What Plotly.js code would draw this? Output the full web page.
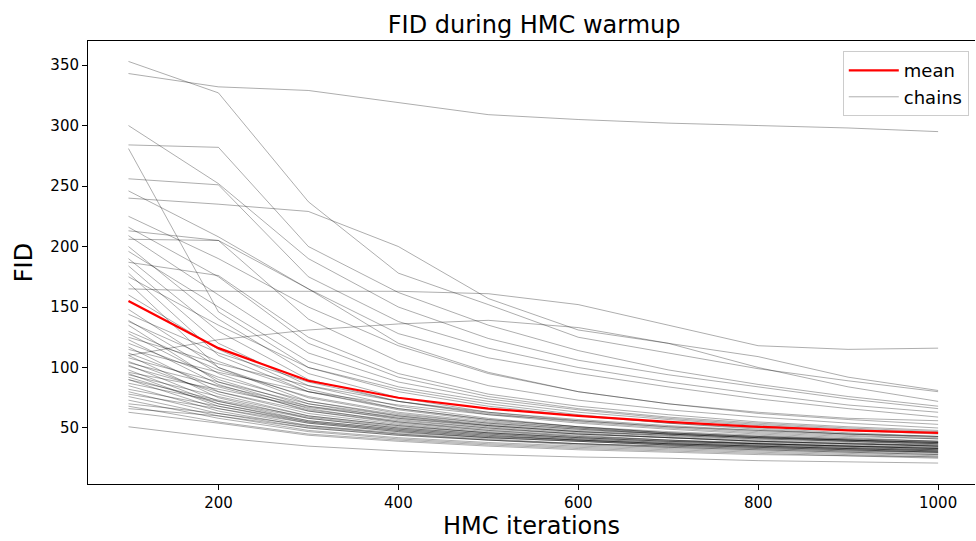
<!DOCTYPE html>
<html>
<head>
<meta charset="utf-8">
<script src="https://cdn.plot.ly/plotly-3.0.1.min.js"></script>
<style>
  html, body { margin: 0; padding: 0; background: #fff; }
  #chart { width: 976px; height: 541px; }
</style>
</head>
<body>
<div id="chart"></div>
<script>
// HMC warmup iterations (x values)
const iterations = [100, 200, 300, 400, 500, 600, 700, 800, 900, 1000];

// Mean FID across chains
const meanFID = [155, 116, 89, 75, 66, 60, 55, 51, 48, 46];

// Upper / outlying chains
const upperChains = [
  [343, 332, 329, 319, 309, 305, 302, 300, 298, 295],
  [353, 327, 237, 178, 152, 125, 112, 99, 89, 80],
  [240, 235, 229, 200, 157, 131, 120, 109, 92, 81],
  [300, 252, 190, 150, 124, 106, 94, 84, 74, 66],
  [284, 282, 200, 162, 135, 114, 98, 86, 76, 68],
  [256, 251, 175, 138, 116, 100, 88, 78, 69, 63],
  [246, 208, 165, 128, 108, 95, 84, 74, 66, 59],
  [281, 146, 100, 82, 70, 61, 54, 49, 45, 42],
  [165, 163, 163, 163, 161, 152, 135, 118, 115, 116],
  [110, 123, 131, 136, 139, 133, 120, 100, 84, 72]
];

// Chains starting between ~160 and ~225
const midChains = [
  [225, 190, 150, 118, 95, 80, 70, 62, 57, 53],
  [216, 175, 120, 92, 76, 66, 59, 54, 50, 47],
  [213, 205, 165, 120, 96, 80, 70, 63, 58, 56],
  [209, 160, 112, 88, 74, 65, 58, 53, 49, 46],
  [206, 205, 140, 105, 85, 73, 65, 59, 54, 50],
  [200, 140, 95, 75, 63, 56, 51, 47, 44, 41],
  [196, 150, 105, 84, 72, 63, 57, 52, 48, 45],
  [190, 130, 90, 72, 61, 54, 49, 45, 42, 39],
  [187, 176, 125, 95, 78, 68, 61, 55, 51, 48],
  [184, 120, 85, 68, 58, 51, 46, 43, 40, 37],
  [178, 110, 80, 65, 56, 50, 45, 42, 39, 36],
  [175, 135, 100, 80, 68, 60, 54, 50, 46, 43],
  [170, 100, 72, 60, 52, 47, 43, 40, 38, 35],
  [160, 115, 82, 66, 57, 51, 46, 43, 40, 38]
];

// Dense bundle of chains starting below ~150
const lowerChains = [
  [148, 100, 75, 62, 54, 49, 45, 42, 40, 38],
  [144, 112, 88, 72, 62, 55, 50, 46, 43, 41],
  [139, 95, 70, 58, 51, 46, 42, 39, 37, 35],
  [138, 105, 80, 66, 57, 51, 47, 44, 41, 39],
  [135, 88, 66, 55, 48, 44, 40, 38, 36, 34],
  [130, 98, 76, 63, 55, 50, 46, 43, 41, 39],
  [128, 90, 68, 57, 50, 45, 42, 39, 37, 35],
  [125, 103, 85, 72, 63, 57, 52, 48, 45, 43],
  [123, 86, 64, 54, 48, 43, 40, 37, 35, 33],
  [120, 92, 72, 61, 54, 49, 45, 42, 40, 38],
  [117, 80, 62, 53, 47, 43, 40, 37, 35, 33],
  [115, 96, 80, 69, 61, 56, 51, 48, 45, 43],
  [112, 84, 65, 56, 50, 45, 42, 39, 37, 35],
  [110, 75, 58, 50, 45, 41, 38, 36, 34, 32],
  [108, 88, 70, 60, 53, 48, 45, 42, 40, 38],
  [105, 78, 60, 52, 46, 42, 39, 37, 35, 33],
  [104, 85, 68, 59, 52, 47, 44, 41, 39, 37],
  [102, 72, 56, 49, 44, 40, 37, 35, 33, 31],
  [101, 80, 64, 55, 49, 45, 42, 39, 37, 36],
  [98, 70, 55, 48, 43, 40, 37, 35, 33, 31],
  [96, 82, 67, 58, 52, 47, 44, 41, 39, 37],
  [95, 68, 54, 47, 42, 39, 36, 34, 32, 30],
  [94, 76, 60, 52, 46, 42, 39, 37, 35, 33],
  [92, 70, 56, 49, 44, 40, 37, 35, 33, 32],
  [90, 73, 59, 51, 46, 42, 39, 37, 35, 34],
  [90, 66, 52, 45, 41, 37, 35, 33, 31, 29],
  [87, 72, 58, 50, 45, 41, 38, 36, 34, 32],
  [85, 64, 51, 45, 40, 37, 34, 32, 30, 28],
  [82, 68, 55, 48, 43, 40, 37, 35, 33, 31],
  [80, 62, 50, 44, 40, 36, 34, 32, 30, 28],
  [78, 66, 54, 47, 42, 39, 36, 34, 32, 30],
  [76, 60, 48, 42, 38, 35, 33, 31, 29, 27],
  [73, 58, 47, 41, 37, 34, 32, 30, 28, 26],
  [70, 62, 52, 46, 42, 39, 36, 34, 32, 30],
  [68, 55, 45, 40, 36, 33, 31, 29, 27, 26],
  [66, 60, 50, 44, 40, 37, 35, 33, 31, 30],
  [63, 54, 44, 39, 35, 32, 30, 28, 27, 25],
  [51, 42, 35, 31, 28, 26, 25, 23, 22, 21]
];

// Tick labels
const xTicks = [200, 400, 600, 800, 1000];
const yTicks = [50, 100, 150, 200, 250, 300, 350];

const allChains = upperChains.concat(midChains, lowerChains);
const FONT = 'DejaVu Sans, sans-serif';

const traces = allChains.map((vals, i) => ({
  x: iterations,
  y: vals,
  type: 'scatter',
  mode: 'lines',
  name: 'chains',
  legendgroup: 'chains',
  legendrank: 2,
  showlegend: i === 0,
  line: { color: 'rgba(0,0,0,0.32)', width: 1 },
  hoverinfo: 'skip'
}));

traces.push({
  x: iterations,
  y: meanFID,
  type: 'scatter',
  mode: 'lines',
  name: 'mean',
  legendrank: 1,
  line: { color: '#ff0000', width: 2.2 }
});

const layout = {
  width: 976,
  height: 541,
  paper_bgcolor: '#ffffff',
  plot_bgcolor: '#ffffff',
  margin: { l: 88, r: 1, t: 41, b: 57 },
  font: { family: FONT, color: '#000000' },
  title: {
    text: 'FID during HMC warmup',
    font: { family: FONT, size: 24, color: '#000000' },
    x: 0.503, xanchor: 'center', xref: 'paper',
    y: 0.955, yanchor: 'middle'
  },
  xaxis: {
    range: [55, 1041],
    tickvals: xTicks,
    ticktext: xTicks.map(String),
    ticks: 'outside', ticklen: 5, tickwidth: 1, tickcolor: '#000000',
    showline: true, linecolor: '#000000', linewidth: 1, mirror: true,
    showgrid: false, zeroline: false,
    tickfont: { family: FONT, size: 15, color: '#000000' },
    title: { text: 'HMC iterations', font: { family: FONT, size: 24, color: '#000000' }, standoff: 6 }
  },
  yaxis: {
    range: [3.7, 369.9],
    tickvals: yTicks,
    ticktext: yTicks.map(String),
    ticks: 'outside', ticklen: 5, tickwidth: 1, tickcolor: '#000000',
    showline: true, linecolor: '#000000', linewidth: 1, mirror: false,
    showgrid: false, zeroline: false,
    tickfont: { family: FONT, size: 15, color: '#000000' },
    title: { text: 'FID', font: { family: FONT, size: 24, color: '#000000' }, standoff: 10 }
  },
  legend: {
    x: 0.993, xanchor: 'right',
    y: 0.977, yanchor: 'top',
    bgcolor: 'rgba(255,255,255,0.8)',
    bordercolor: '#cccccc', borderwidth: 1,
    font: { family: FONT, size: 18, color: '#000000' },
    itemwidth: 50,
    traceorder: 'normal'
  },
  showlegend: true
};

Plotly.newPlot('chart', traces, layout, { staticPlot: true, displayModeBar: false });
</script>
</body>
</html>
